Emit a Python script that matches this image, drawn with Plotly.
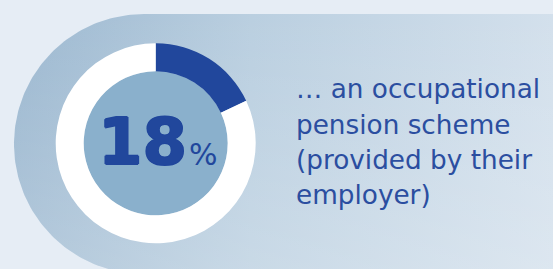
import numpy as np
import plotly.graph_objects as go

# ---- data ----
share_labels = ["Occupational pension scheme", "Other"]
share_values = [18, 82]
big_number = "18"
unit = "%"
caption_lines = ["… an occupational", "pension scheme", "(provided by their", "employer)"]

W, H = 553, 269
BLUE = "#21479c"
TEXT_BLUE = "#2b4ea0"

fig = go.Figure()

# ---- background panel (rounded-left stadium with gradients) ----
cx, cy, r = 144, 144, 130
ang = np.linspace(np.pi / 2, 3 * np.pi / 2, 120)  # bottom -> left -> top (y down)
arc_x = cx + r * np.cos(ang)
arc_y = cy + r * np.sin(ang)
px = [cx, W + 10, W + 10, cx] + list(arc_x)
py = [cy - r, cy - r, cy + r, cy + r] + list(arc_y)
fig.add_trace(go.Scatter(
    x=px, y=py, mode="lines", fill="toself", line=dict(width=0),
    fillgradient=dict(type="horizontal", start=14, stop=W,
                      colorscale=[[0, "#9cb8d0"], [0.44, "#bacfe0"], [1, "#d3e0ec"]]),
    hoverinfo="skip", showlegend=False,
))
fig.add_trace(go.Scatter(
    x=px, y=py, mode="lines", fill="toself", line=dict(width=0),
    fillgradient=dict(type="vertical", start=cy + r, stop=cy - r,
                      colorscale=[[0, "rgba(255,255,255,0.22)"], [1, "rgba(255,255,255,0)"]]),
    hoverinfo="skip", showlegend=False,
))

# ---- donut ----
dcx, dcy, R_out, R_in = 155.7, 143.3, 100, 72
def dom(rad):
    return dict(x=[(dcx - rad) / W, (dcx + rad) / W],
                y=[(H - dcy - rad) / H, (H - dcy + rad) / H])

fig.add_trace(go.Pie(values=[1], marker=dict(colors=["#8ab0cc"], line=dict(width=0)),
                     domain=dom(R_in), textinfo="none", hoverinfo="skip",
                     showlegend=False, sort=False))
fig.add_trace(go.Pie(labels=share_labels, values=share_values, hole=R_in / R_out,
                     marker=dict(colors=[BLUE, "white"], line=dict(width=0)),
                     domain=dom(R_out), textinfo="none", hoverinfo="skip",
                     sort=False, direction="clockwise", rotation=0, showlegend=False))

# ---- texts ----
heavy = ("1px 0 0 %s, -1px 0 0 %s, 0 1px 0 %s, 0 -1px 0 %s"
         % (BLUE, BLUE, BLUE, BLUE))
fig.add_annotation(x=189, y=142, xref="x", yref="y", text="<b>" + big_number + "</b>",
                   showarrow=False, xanchor="right", yanchor="middle",
                   font=dict(family="DejaVu Sans", size=64, color=BLUE, shadow=heavy))
fig.add_annotation(x=187, y=154, xref="x", yref="y", text=unit,
                   showarrow=False, xanchor="left", yanchor="middle",
                   font=dict(family="DejaVu Sans", size=30, color=BLUE))

line_centers = [89, 125, 160, 195]
for t, yc in zip(caption_lines, line_centers):
    fig.add_annotation(x=294, y=yc, xref="x", yref="y", text=t, showarrow=False,
                       xanchor="left", yanchor="middle",
                       font=dict(family="DejaVu Sans", size=26.3, color=TEXT_BLUE))

fig.update_layout(
    width=W, height=H, margin=dict(l=0, r=0, t=0, b=0),
    paper_bgcolor="#e6edf5", plot_bgcolor="rgba(0,0,0,0)",
    xaxis=dict(range=[0, W], visible=False, fixedrange=True),
    yaxis=dict(range=[H, 0], visible=False, fixedrange=True),
    showlegend=False,
)
fig.write_html("out.html", config={"displayModeBar": False},
               post_script="document.body.style.margin='0';document.body.style.overflow='hidden';")
